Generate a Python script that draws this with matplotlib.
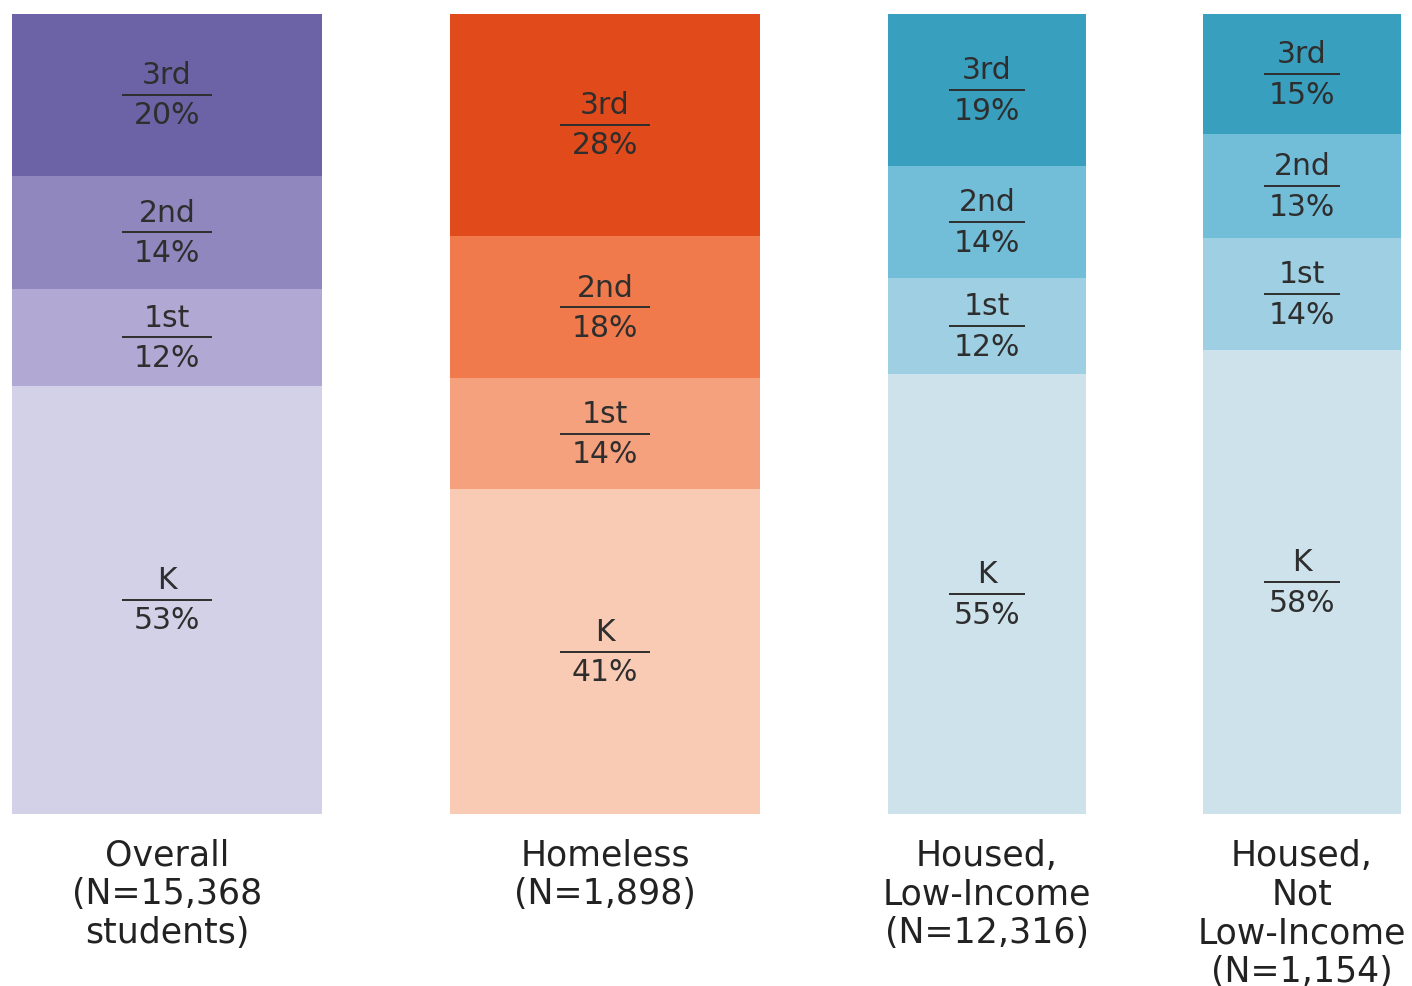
import matplotlib
matplotlib.use("Agg")
import matplotlib.pyplot as plt

plt.rcParams["font.family"] = ["DejaVu Sans"]

groups = ["Overall\n(N=15,368\nstudents)", "Homeless\n(N=1,898)",
          "Housed,\nLow-Income\n(N=12,316)", "Housed,\nNot\nLow-Income\n(N=1,154)"]
grades = ["K", "1st", "2nd", "3rd"]
values = [
    [53, 12, 14, 20],
    [41, 14, 18, 28],
    [55, 12, 14, 19],
    [58, 14, 13, 15],
]
colors = [
    ["#D3D1E8", "#B1A9D4", "#8F87BD", "#6C62A6"],
    ["#F9CBB5", "#F6A17D", "#F07A4C", "#E14A1B"],
    ["#CEE2EC", "#9FCFE2", "#72BDD8", "#399FBE"],
    ["#CEE2EC", "#9FCFE2", "#72BDD8", "#399FBE"],
]
centers = [167, 605, 987, 1302]
widths = [310, 310, 198, 198]
line_half = [45, 45, 38, 38]

W, H = 1412, 987
fig = plt.figure(figsize=(W / 100, H / 100), dpi=100)
bot_px, top_px = 815, 15
ax = fig.add_axes([0, (H - bot_px) / H, 1, (bot_px - top_px) / H])
ax.set_xlim(0, W)
ax.set_ylim(0, 100)
ax.axis("off")

txt = "#2E2E2E"
for gi, vals in enumerate(values):
    total = sum(vals)
    bottom = 0.0
    for si, v in enumerate(vals):
        h = v / total * 100
        ax.bar(centers[gi], h, width=widths[gi], bottom=bottom,
               color=colors[gi][si], linewidth=0)
        mid = bottom + h / 2
        ax.plot([centers[gi] - line_half[gi], centers[gi] + line_half[gi]],
                [mid, mid], color=txt, lw=1.4, solid_capstyle="butt")
        ax.annotate(grades[si], (centers[gi], mid), xytext=(0, 4),
                    textcoords="offset points", ha="center", va="bottom",
                    fontsize=21.5, color=txt)
        ax.annotate(f"{v}%", (centers[gi], mid), xytext=(0, -4),
                    textcoords="offset points", ha="center", va="top",
                    fontsize=21.5, color=txt)
        bottom += h
    ax.annotate(groups[gi], (centers[gi], 0), xytext=(0, -17),
                textcoords="offset points", ha="center", va="top",
                fontsize=25, color="#222222", linespacing=1.18,
                annotation_clip=False)

fig.savefig("out.png", dpi=100)
